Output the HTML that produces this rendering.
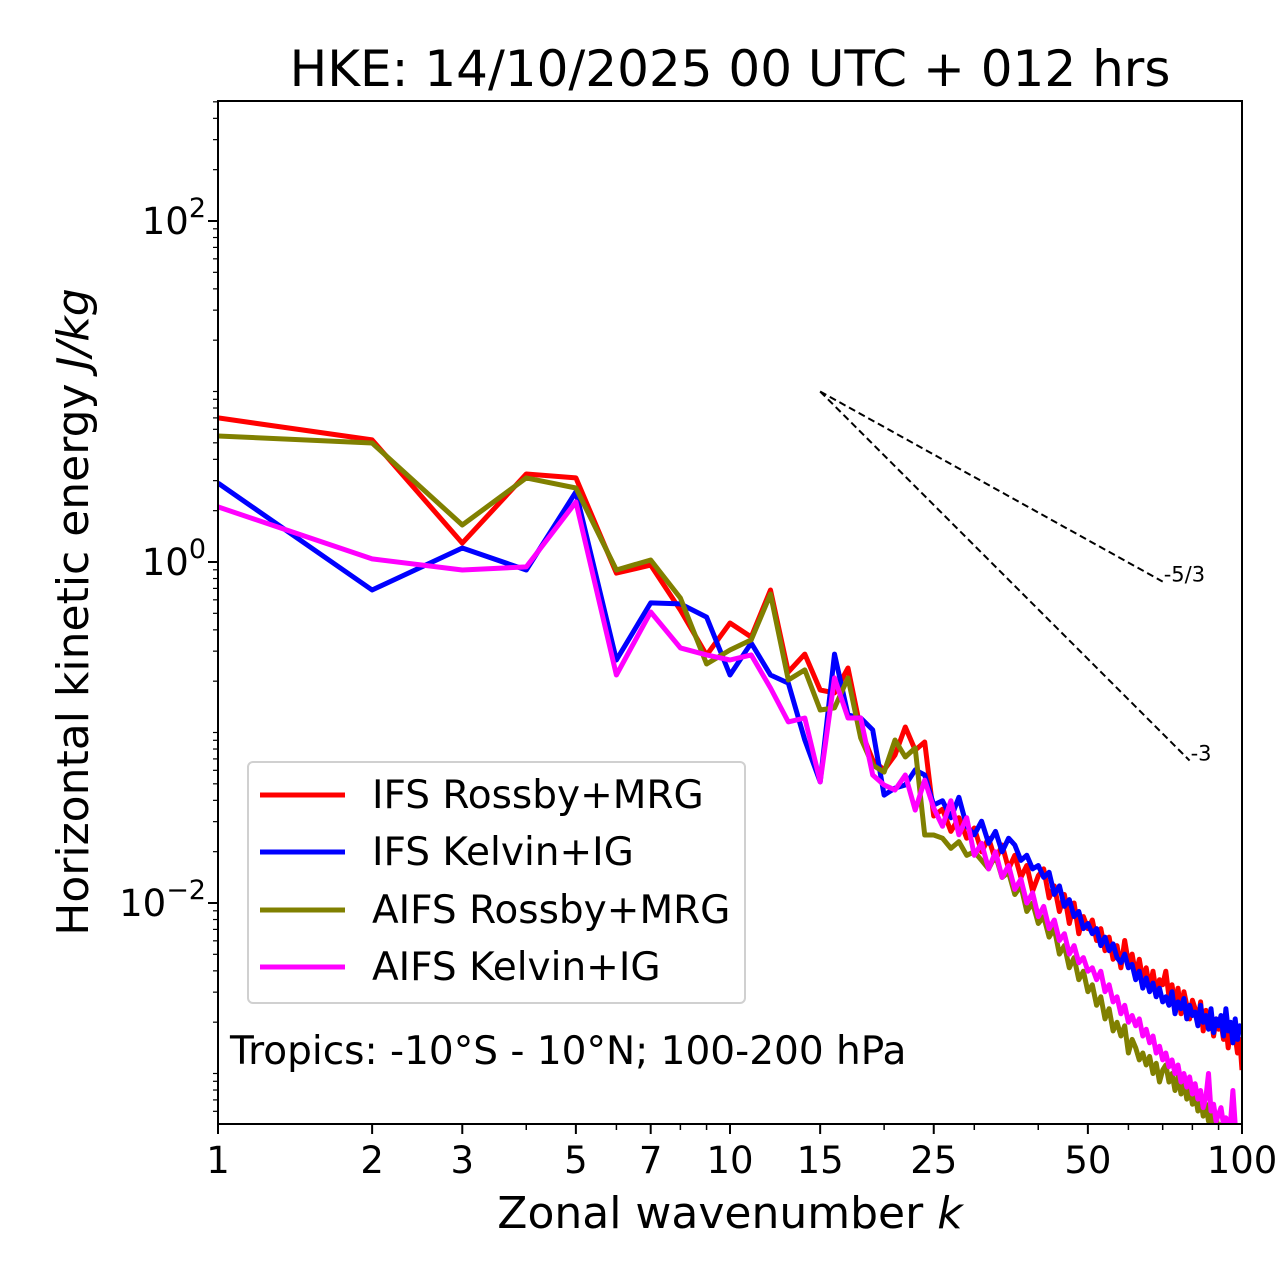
<!DOCTYPE html>
<html><head><meta charset="utf-8"><style>
html,body{margin:0;padding:0;background:#fff;}
svg{display:block;font-family:"DejaVu Sans","Liberation Sans",sans-serif;}
</style></head><body>
<svg id="chart" width="1280" height="1288" viewBox="0 0 1280 1288" xmlns="http://www.w3.org/2000/svg">
<defs><clipPath id="clip"><rect x="218" y="101" width="1024" height="1023"/></clipPath></defs>
<text x="730" y="86" font-size="50" text-anchor="middle">HKE: 14/10/2025 00 UTC + 012 hrs</text>
<g id="series" clip-path="url(#clip)"></g>
<g id="axes"></g>
<text x="730" y="1228" font-size="44" text-anchor="middle">Zonal wavenumber <tspan font-style="italic">k</tspan></text>
<text transform="translate(88,612) rotate(-90)" font-size="44" text-anchor="middle">Horizontal kinetic energy <tspan font-style="italic">J/kg</tspan></text>
<g>
<rect x="248" y="762" width="497" height="241" rx="5" fill="#fff" fill-opacity="0.8" stroke="#d0d0d0" stroke-width="2"/>
<g><line x1="260" y1="795" x2="345" y2="795" stroke="#ff0000" stroke-width="5"/><text x="372" y="808" font-size="39">IFS Rossby+MRG</text></g>
<g><line x1="260" y1="852" x2="345" y2="852" stroke="#0000ff" stroke-width="5"/><text x="372" y="865" font-size="39">IFS Kelvin+IG</text></g>
<g><line x1="260" y1="910" x2="345" y2="910" stroke="#808000" stroke-width="5"/><text x="372" y="923" font-size="39">AIFS Rossby+MRG</text></g>
<g><line x1="260" y1="967" x2="345" y2="967" stroke="#ff00ff" stroke-width="5"/><text x="372" y="980" font-size="39">AIFS Kelvin+IG</text></g>
</g>
<text x="230" y="1064" font-size="39">Tropics: -10°S - 10°N; 100-200 hPa</text>
</svg>
<script>
// log10 of energy (J/kg) for k = 1..100
const ifsRossbyLog = [0.845,0.716,0.111,0.516,0.493,-0.065,-0.018,-0.282,-0.546,-0.358,-0.440,-0.164,-0.645,-0.540,-0.751,-0.768,-0.622,-0.985,-1.161,-1.220,-1.132,-0.968,-1.103,-1.056,-1.490,
-1.45,-1.58,-1.50,-1.62,-1.56,-1.70,-1.62,-1.75,-1.66,-1.80,-1.72,-1.85,-1.78,-1.93,-1.84,
-1.80,-1.97,-1.90,-2.05,-1.95,-2.12,-2.00,-2.18,-2.08,-2.15,-2.10,-2.22,-2.15,-2.28,-2.20,-2.33,-2.25,-2.38,-2.22,-2.35,
-2.30,-2.42,-2.33,-2.45,-2.38,-2.50,-2.40,-2.52,-2.45,-2.48,-2.40,-2.55,-2.48,-2.60,-2.50,-2.65,-2.52,-2.60,-2.68,-2.57,
-2.62,-2.70,-2.58,-2.75,-2.63,-2.72,-2.66,-2.78,-2.68,-2.74,-2.70,-2.80,-2.72,-2.85,-2.75,-2.82,-2.78,-2.88,-2.80,-2.98];
const ifsKelvinLog = [0.463,-0.164,0.082,-0.047,0.411,-0.575,-0.240,-0.246,-0.323,-0.663,-0.475,-0.663,-0.710,-1.044,-1.290,-0.540,-0.897,-0.915,-0.985,-1.367,-1.326,-1.308,-1.220,-1.249,-1.425,
-1.40,-1.50,-1.38,-1.55,-1.60,-1.52,-1.65,-1.58,-1.70,-1.62,-1.66,-1.75,-1.72,-1.80,-1.78,
-1.85,-1.82,-1.95,-1.90,-2.02,-1.98,-2.08,-2.05,-2.15,-2.12,-2.18,-2.15,-2.25,-2.20,-2.28,-2.24,-2.32,-2.35,-2.30,-2.38,
-2.36,-2.45,-2.40,-2.50,-2.44,-2.52,-2.47,-2.55,-2.50,-2.58,-2.55,-2.60,-2.52,-2.65,-2.58,-2.62,-2.56,-2.68,-2.60,-2.66,
-2.64,-2.72,-2.60,-2.70,-2.66,-2.74,-2.62,-2.76,-2.68,-2.72,-2.66,-2.78,-2.62,-2.75,-2.70,-2.82,-2.68,-2.80,-2.72,-2.76];
const aifsRossbyLog = [0.739,0.698,0.217,0.493,0.434,-0.047,0.012,-0.211,-0.598,-0.516,-0.457,-0.188,-0.692,-0.633,-0.868,-0.856,-0.680,-1.032,-1.191,-1.232,-1.044,-1.144,-1.091,-1.601,-1.601,
-1.62,-1.68,-1.64,-1.72,-1.70,-1.75,-1.80,-1.72,-1.85,-1.82,-1.95,-1.90,-2.05,-2.00,-2.12,
-2.08,-2.20,-2.15,-2.30,-2.25,-2.38,-2.32,-2.45,-2.40,-2.52,-2.48,-2.60,-2.55,-2.68,-2.62,-2.75,-2.70,-2.78,-2.72,-2.88,
-2.80,-2.85,-2.92,-2.88,-2.95,-2.90,-3.00,-2.94,-3.05,-2.98,-2.95,-3.05,-3.00,-3.10,-3.02,-3.12,-3.05,-3.15,-3.08,-3.18,
-3.12,-3.22,-3.15,-3.25,-3.18,-3.28,-3.20,-3.32,-3.25,-3.35,-3.30,-3.38,-3.32,-3.40,-3.35,-3.42,-3.38,-3.45,-3.40,-3.48];
const aifsKelvinLog = [0.323,0.018,-0.047,-0.029,0.352,-0.663,-0.293,-0.504,-0.545,-0.575,-0.545,-0.739,-0.938,-0.915,-1.290,-0.680,-0.915,-0.915,-1.249,-1.308,-1.337,-1.249,-1.455,-1.279,-1.443,
-1.55,-1.40,-1.60,-1.50,-1.72,-1.65,-1.80,-1.70,-1.85,-1.78,-1.92,-1.86,-2.00,-1.94,-2.08,
-2.02,-2.15,-2.10,-2.22,-2.18,-2.30,-2.25,-2.35,-2.32,-2.40,-2.38,-2.45,-2.40,-2.52,-2.48,-2.58,-2.55,-2.65,-2.60,-2.70,
-2.66,-2.72,-2.68,-2.78,-2.74,-2.82,-2.78,-2.88,-2.84,-2.92,-2.88,-2.96,-2.92,-3.00,-2.95,-3.05,-3.00,-3.08,-3.02,-3.12,
-3.06,-3.15,-3.10,-3.20,-3.14,-3.00,-3.22,-3.18,-3.28,-3.24,-3.20,-3.30,-3.26,-3.34,-3.28,-3.10,-3.30,-3.32,-3.34,-3.36];
const xTickLabels = [1,2,3,5,7,10,15,25,50,100];
const xMinorTicks = [4,6,8,9,20,30,40,60,70,80,90];
const yTickExps = [-2,0,2];
const slopeStartK = 15, slopeStartE = 10;
const slopeEnds = [{slope:-5/3,k:70,label:"-5/3"},{slope:-3,k:79,label:"-3"}];

const X0=218,X1=1242,Y0=101,Y1=1124;
const xMinL=0,xMaxL=2;
const yMinL=-3.2962,yMaxL=2.7038;
function xs(k){return X0+(Math.log10(k)-xMinL)/(xMaxL-xMinL)*(X1-X0);}
function ysL(l){return Y1-(l-yMinL)/(yMaxL-yMinL)*(Y1-Y0);}
const NS="http://www.w3.org/2000/svg";
function mk(tag,attrs,parent){const e=document.createElementNS(NS,tag);for(const a in attrs)e.setAttribute(a,attrs[a]);parent.appendChild(e);return e;}
const sg=document.getElementById('series'), ax=document.getElementById('axes');
const series=[[ifsRossbyLog,'#ff0000','ifs-rossby-line'],[ifsKelvinLog,'#0000ff','ifs-kelvin-line'],[aifsRossbyLog,'#808000','aifs-rossby-line'],[aifsKelvinLog,'#ff00ff','aifs-kelvin-line']];
series.forEach(s=>{
  const d=s[0].map((v,i)=>(i?'L':'M')+xs(i+1).toFixed(1)+','+ysL(v).toFixed(1)).join(' ');
  const p=mk('path',{d:d,fill:'none',stroke:s[1],'stroke-width':5,'stroke-linejoin':'round'},sg);
  
  
});
slopeEnds.forEach(r=>{
  const l0=Math.log10(slopeStartE), l1=l0+r.slope*Math.log10(r.k/slopeStartK);
  const ln=mk('line',{x1:xs(slopeStartK),y1:ysL(l0),x2:xs(r.k),y2:ysL(l1),stroke:'#000','stroke-width':2,'stroke-dasharray':'7,4'},sg);
  
  
  const t=mk('text',{x:xs(r.k)+1,y:ysL(l1)+0,'font-size':21},ax);
  t.textContent=r.label;
  
  
});
const fr=mk('rect',{x:X0,y:Y0,width:X1-X0,height:Y1-Y0,fill:'none',stroke:'#000','stroke-width':2},ax);


xTickLabels.forEach(k=>{
  const x=xs(k);
  mk('line',{x1:x,y1:Y1,x2:x,y2:Y1+10,stroke:'#000','stroke-width':2},ax);
  const t=mk('text',{x:x,y:Y1+49,'font-size':37,'text-anchor':'middle'},ax);
  t.textContent=k;
  
  
});
xMinorTicks.forEach(k=>{const x=xs(k);mk('line',{x1:x,y1:Y1,x2:x,y2:Y1+6,stroke:'#000','stroke-width':1.5},ax);});
for(let e=-4;e<=3;e++){
  for(let m=1;m<10;m++){
    const l=e+Math.log10(m); if(l<yMinL||l>yMaxL) continue;
    const y=ysL(l);
    if(m===1&&yTickExps.includes(e)){
      mk('line',{x1:X0-10,y1:y,x2:X0,y2:y,stroke:'#000','stroke-width':2},ax);
      const t=mk('text',{x:X0-12,y:y+13,'font-size':37,'text-anchor':'end'},ax);
      
      
      t.textContent='10';
      const sp=mk('tspan',{dy:-17,'font-size':27},t); sp.textContent=(e<0?'\u2212':'')+Math.abs(e);
    } else {
      mk('line',{x1:X0-5,y1:y,x2:X0,y2:y,stroke:'#000','stroke-width':1.2},ax);
    }
  }
}
</script>
</body></html>
